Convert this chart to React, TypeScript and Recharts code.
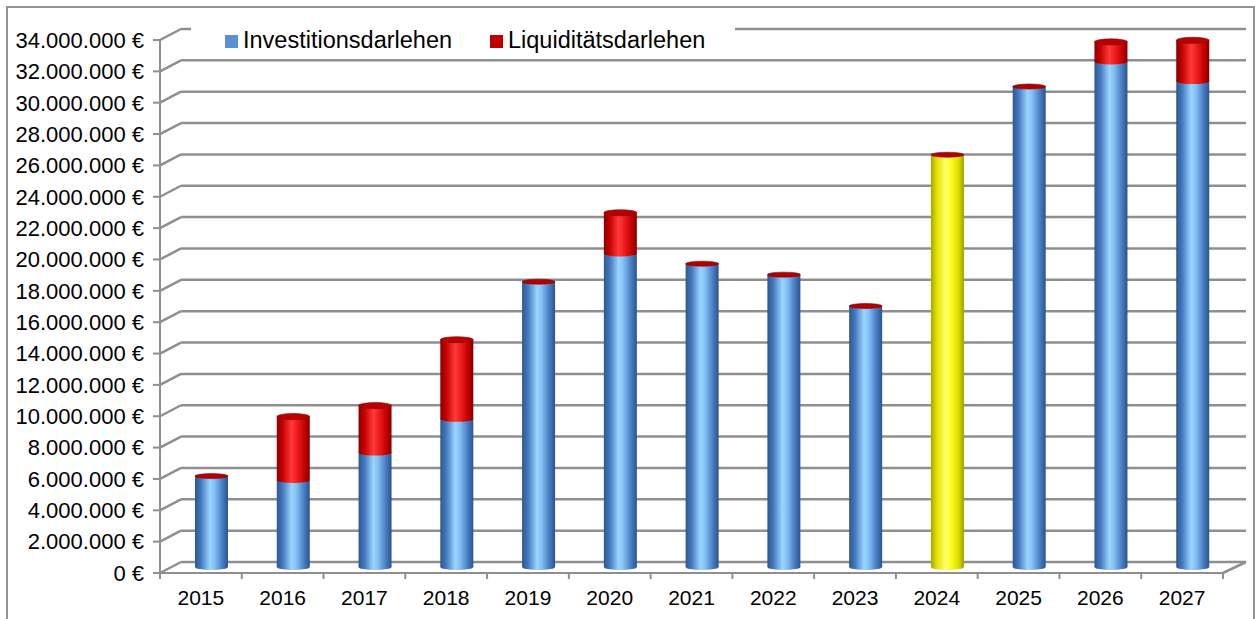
import React from 'react';
import { BarChart, Bar, XAxis, YAxis, CartesianGrid } from 'recharts';

const years = ['2015', '2016', '2017', '2018', '2019', '2020', '2021', '2022', '2023', '2024', '2025', '2026', '2027'];
const investitionsdarlehen = [5800000, 5550000, 7300000, 9450000, 18200000, 20000000, 19350000, 18650000, 16650000, 26300000, 30650000, 32250000, 31000000];
const liquiditaetsdarlehen = [0, 4050000, 3000000, 5050000, 0, 2600000, 0, 0, 0, 0, 0, 1250000, 2600000];
const seriesNames = ['Investitionsdarlehen', 'Liquiditätsdarlehen'];
const highlightYear = '2024';
const yTicks = [0, 2000000, 4000000, 6000000, 8000000, 10000000, 12000000, 14000000, 16000000, 18000000, 20000000, 22000000, 24000000, 26000000, 28000000, 30000000, 32000000, 34000000];

const data = years.map((y, i) => ({ year: y, inv: investitionsdarlehen[i], liq: liquiditaetsdarlehen[i] }));

const FONT = '"Liberation Sans", Arial, sans-serif';
const GRID = '#8f8f8f';
const DX = 21; // depth offset x
const DY = 11; // depth offset y
const BAR_DX = 11;
const BAR_DY = 6;
const RY = 3;
const BAND = (1223 - 160) / 13;

const fmt = (n: number) => String(n).replace(/\B(?=(\d{3})+(?!\d))/g, '.') + ' €';

const InvShape = (props: any) => {
  const { x, y, width, height, payload } = props;
  if (width == null || height == null) return <g />;
  const bx = x + BAR_DX;
  const by = y - BAR_DY;
  const cx = bx + width / 2;
  const grad = payload.year === highlightYear ? 'url(#gYellow)' : 'url(#gBlue)';
  return (
    <g>
      <ellipse cx={cx} cy={by + height} rx={width / 2} ry={RY} fill={grad} />
      <rect x={bx} y={by} width={width} height={height} fill={grad} />
      {payload.liq === 0 && (
        <ellipse cx={cx} cy={by} rx={width / 2} ry={RY - 0.5} fill="#b00000" stroke="#8a0000" strokeWidth={0.6} />
      )}
    </g>
  );
};

const LiqShape = (props: any) => {
  const { x, y, width, height } = props;
  if (width == null || height == null || height <= 0) return <g />;
  const bx = x + BAR_DX;
  const by = y - BAR_DY;
  const cx = bx + width / 2;
  return (
    <g>
      <ellipse cx={cx} cy={by + height} rx={width / 2} ry={RY} fill="url(#gRed)" />
      <rect x={bx} y={by} width={width} height={height} fill="url(#gRed)" />
      <ellipse cx={cx} cy={by} rx={width / 2} ry={RY} fill="#b80000" stroke="#8a0000" strokeWidth={0.6} />
    </g>
  );
};

const GridLine = (props: any) => {
  const { x1, y1, x2 } = props;
  const isBottom = y1 > 565;
  return (
    <g key={props.key}>
      <line x1={x1} y1={y1} x2={x1 + DX} y2={y1 - DY} stroke={GRID} strokeWidth={2.5} />
      <line x1={x1 + DX} y1={y1 - DY} x2={x2 + DX + 2} y2={y1 - DY} stroke={GRID} strokeWidth={2.5} />
      {isBottom && <line x1={x2} y1={y1} x2={x2 + DX + 2} y2={y1 - DY} stroke={GRID} strokeWidth={2.5} />}
    </g>
  );
};

const XTick = (props: any) => {
  const { x, y, payload, index, visibleTicksCount } = props;
  const axisY = y - 8;
  const left = x - BAND / 2;
  const right = x + BAND / 2;
  return (
    <g>
      <line x1={left} y1={axisY} x2={left} y2={axisY + 6} stroke={GRID} strokeWidth={2} />
      {index === visibleTicksCount - 1 && (
        <line x1={right} y1={axisY} x2={right} y2={axisY + 6} stroke={GRID} strokeWidth={2} />
      )}
      <text x={x} y={y + 24} textAnchor="middle" fontSize={21} fontFamily={FONT} fill="#000">
        {payload.value}
      </text>
    </g>
  );
};

const legendColors = ['#5b8fd6', '#c00000'];
const legendPos = [{ sq: 225, tx: 243 }, { sq: 490, tx: 508 }];

export default function App() {
  return (
    <div style={{ position: 'absolute', left: 0, top: 0, width: 1255, height: 619, background: '#fff', overflow: 'hidden' }}>
      <div
        style={{
          position: 'absolute', left: 6, top: 6, width: 1249, height: 700,
          boxSizing: 'border-box', border: '2px solid #939393',
        }}
      />
      <div style={{ position: 'absolute', left: 0, top: 0 }}>
        <BarChart
          width={1255}
          height={619}
          data={data}
          margin={{ top: 40, right: 32, bottom: 0, left: 0 }}
          barCategoryGap={0}
        >
          <defs>
            <linearGradient id="gBlue" x1="0" y1="0" x2="1" y2="0">
              <stop offset="0%" stopColor="#2c5892" />
              <stop offset="18%" stopColor="#4478be" />
              <stop offset="45%" stopColor="#9ad4ff" />
              <stop offset="58%" stopColor="#86c2f6" />
              <stop offset="82%" stopColor="#4a7fc4" />
              <stop offset="100%" stopColor="#2a548c" />
            </linearGradient>
            <linearGradient id="gRed" x1="0" y1="0" x2="1" y2="0">
              <stop offset="0%" stopColor="#8a0000" />
              <stop offset="18%" stopColor="#c80000" />
              <stop offset="45%" stopColor="#ff3a3a" />
              <stop offset="60%" stopColor="#f02020" />
              <stop offset="85%" stopColor="#c00000" />
              <stop offset="100%" stopColor="#850000" />
            </linearGradient>
            <linearGradient id="gYellow" x1="0" y1="0" x2="1" y2="0">
              <stop offset="0%" stopColor="#a6a600" />
              <stop offset="18%" stopColor="#e2e200" />
              <stop offset="45%" stopColor="#ffff70" />
              <stop offset="60%" stopColor="#ffff20" />
              <stop offset="85%" stopColor="#dada00" />
              <stop offset="100%" stopColor="#9c9c00" />
            </linearGradient>
          </defs>
          <CartesianGrid vertical={false} horizontal={GridLine as any} />
          <XAxis
            dataKey="year"
            height={46}
            interval={0}
            tickLine={false}
            axisLine={{ stroke: GRID, strokeWidth: 2 }}
            tick={<XTick />}
          />
          <YAxis
            width={160}
            domain={[0, 34000000]}
            ticks={yTicks}
            interval={0}
            tickFormatter={fmt}
            tickSize={7}
            tickMargin={9}
            tickLine={{ stroke: GRID, strokeWidth: 2 }}
            axisLine={{ stroke: GRID, strokeWidth: 2 }}
            tick={{ fontSize: 22, fill: '#000', fontFamily: FONT }}
          />
          <Bar dataKey="inv" name={seriesNames[0]} stackId="a" barSize={33} shape={<InvShape />} isAnimationActive={false} />
          <Bar dataKey="liq" name={seriesNames[1]} stackId="a" barSize={33} shape={<LiqShape />} isAnimationActive={false} />
        </BarChart>
      </div>
      <div
        style={{
          position: 'absolute', left: 191, top: 18, width: 544, height: 36,
          background: '#fff', fontFamily: FONT, fontSize: 23.5, color: '#000',
        }}
      >
        {seriesNames.map((n, i) => (
          <React.Fragment key={n}>
            <div
              style={{
                position: 'absolute', left: legendPos[i].sq - 191, top: 17, width: 13, height: 13,
                background: legendColors[i],
              }}
            />
            <div style={{ position: 'absolute', left: legendPos[i].tx - 191, top: 9, lineHeight: '26px', whiteSpace: 'nowrap' }}>
              {n}
            </div>
          </React.Fragment>
        ))}
      </div>
    </div>
  );
}
